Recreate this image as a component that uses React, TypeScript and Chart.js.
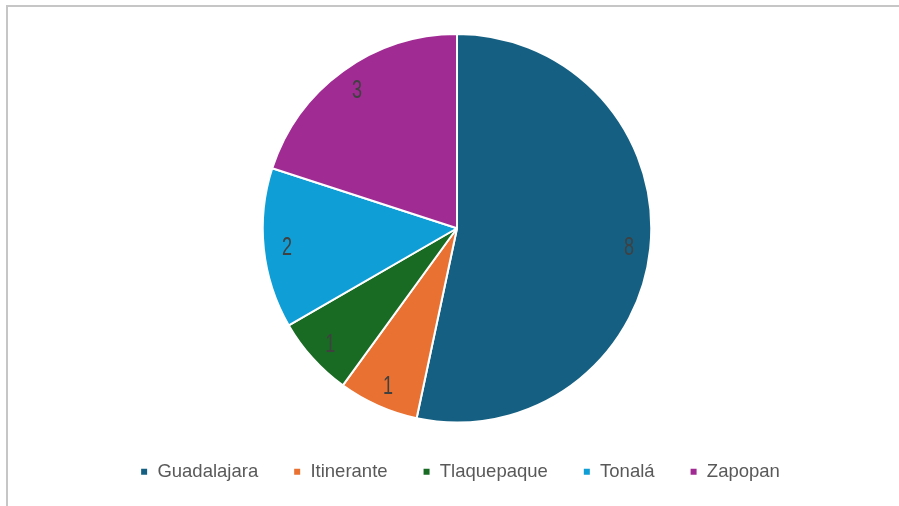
import React, { useEffect, useRef } from "react";
import { Chart, registerables } from "chart.js";

Chart.register(...registerables);

const categories = ["Guadalajara", "Itinerante", "Tlaquepaque", "Tonalá", "Zapopan"];
const values = [8, 1, 1, 2, 3];
const colors = ["#156082", "#E97132", "#196B24", "#0F9ED5", "#A02B93"];

const FONT = "'Liberation Sans', Arial, sans-serif";

const labelPlugin = {
  id: "sliceLabels",
  afterLayout(chart: any) {
    if (chart.legend) {
      chart.legend.left += 3;
      chart.legend.right += 3;
      chart.legend.top += 4;
      chart.legend.bottom += 4;
    }
  },
  afterDatasetsDraw(chart: any) {
    const ctx = chart.ctx;
    const meta = chart.getDatasetMeta(0);
    const ds = chart.data.datasets[0];
    meta.data.forEach((arc: any, i: number) => {
      const { x, y, startAngle, endAngle, outerRadius } = arc.getProps(
        ["x", "y", "startAngle", "endAngle", "outerRadius"],
        true
      );
      const mid = (startAngle + endAngle) / 2;
      const r = outerRadius * 0.885;
      ctx.save();
      ctx.translate(x + Math.cos(mid) * r + 1, y + Math.sin(mid) * r + 2);
      ctx.scale(0.72, 1);
      ctx.fillStyle = "#404040";
      ctx.font = `25px ${FONT}`;
      ctx.textAlign = "center";
      ctx.textBaseline = "middle";
      ctx.fillText(String(ds.data[i]), 0, 0);
      ctx.restore();
    });
  },
};

export default function App() {
  const ref = useRef<HTMLCanvasElement>(null);
  useEffect(() => {
    if (!ref.current) return;
    const chart = new Chart(ref.current, {
      type: "pie",
      data: {
        labels: categories,
        datasets: [
          {
            data: values,
            backgroundColor: colors,
            borderColor: "#ffffff",
            borderWidth: 2,
          },
        ],
      },
      options: {
        animation: false,
        responsive: false,
        maintainAspectRatio: false,
        layout: { padding: { top: 26, left: 7, right: 0, bottom: 19 } },
        plugins: {
          tooltip: { enabled: false },
          legend: {
            position: "bottom",
            labels: {
              boxWidth: 8,
              boxHeight: 8,
              padding: 35,
              color: "#595959",
              font: { family: FONT, size: 18.5 },
            },
          },
        },
      },
      plugins: [labelPlugin],
    });
    return () => chart.destroy();
  }, []);
  return (
    <div
      style={{
        position: "fixed",
        left: 6,
        top: 5,
        width: 893,
        height: 501,
        borderLeft: "2px solid #c6c6c6",
        borderTop: "2px solid #c6c6c6",
        overflow: "hidden",
        background: "#fff",
      }}
    >
      <canvas ref={ref} width={891} height={499} style={{ display: "block" }} />
    </div>
  );
}
